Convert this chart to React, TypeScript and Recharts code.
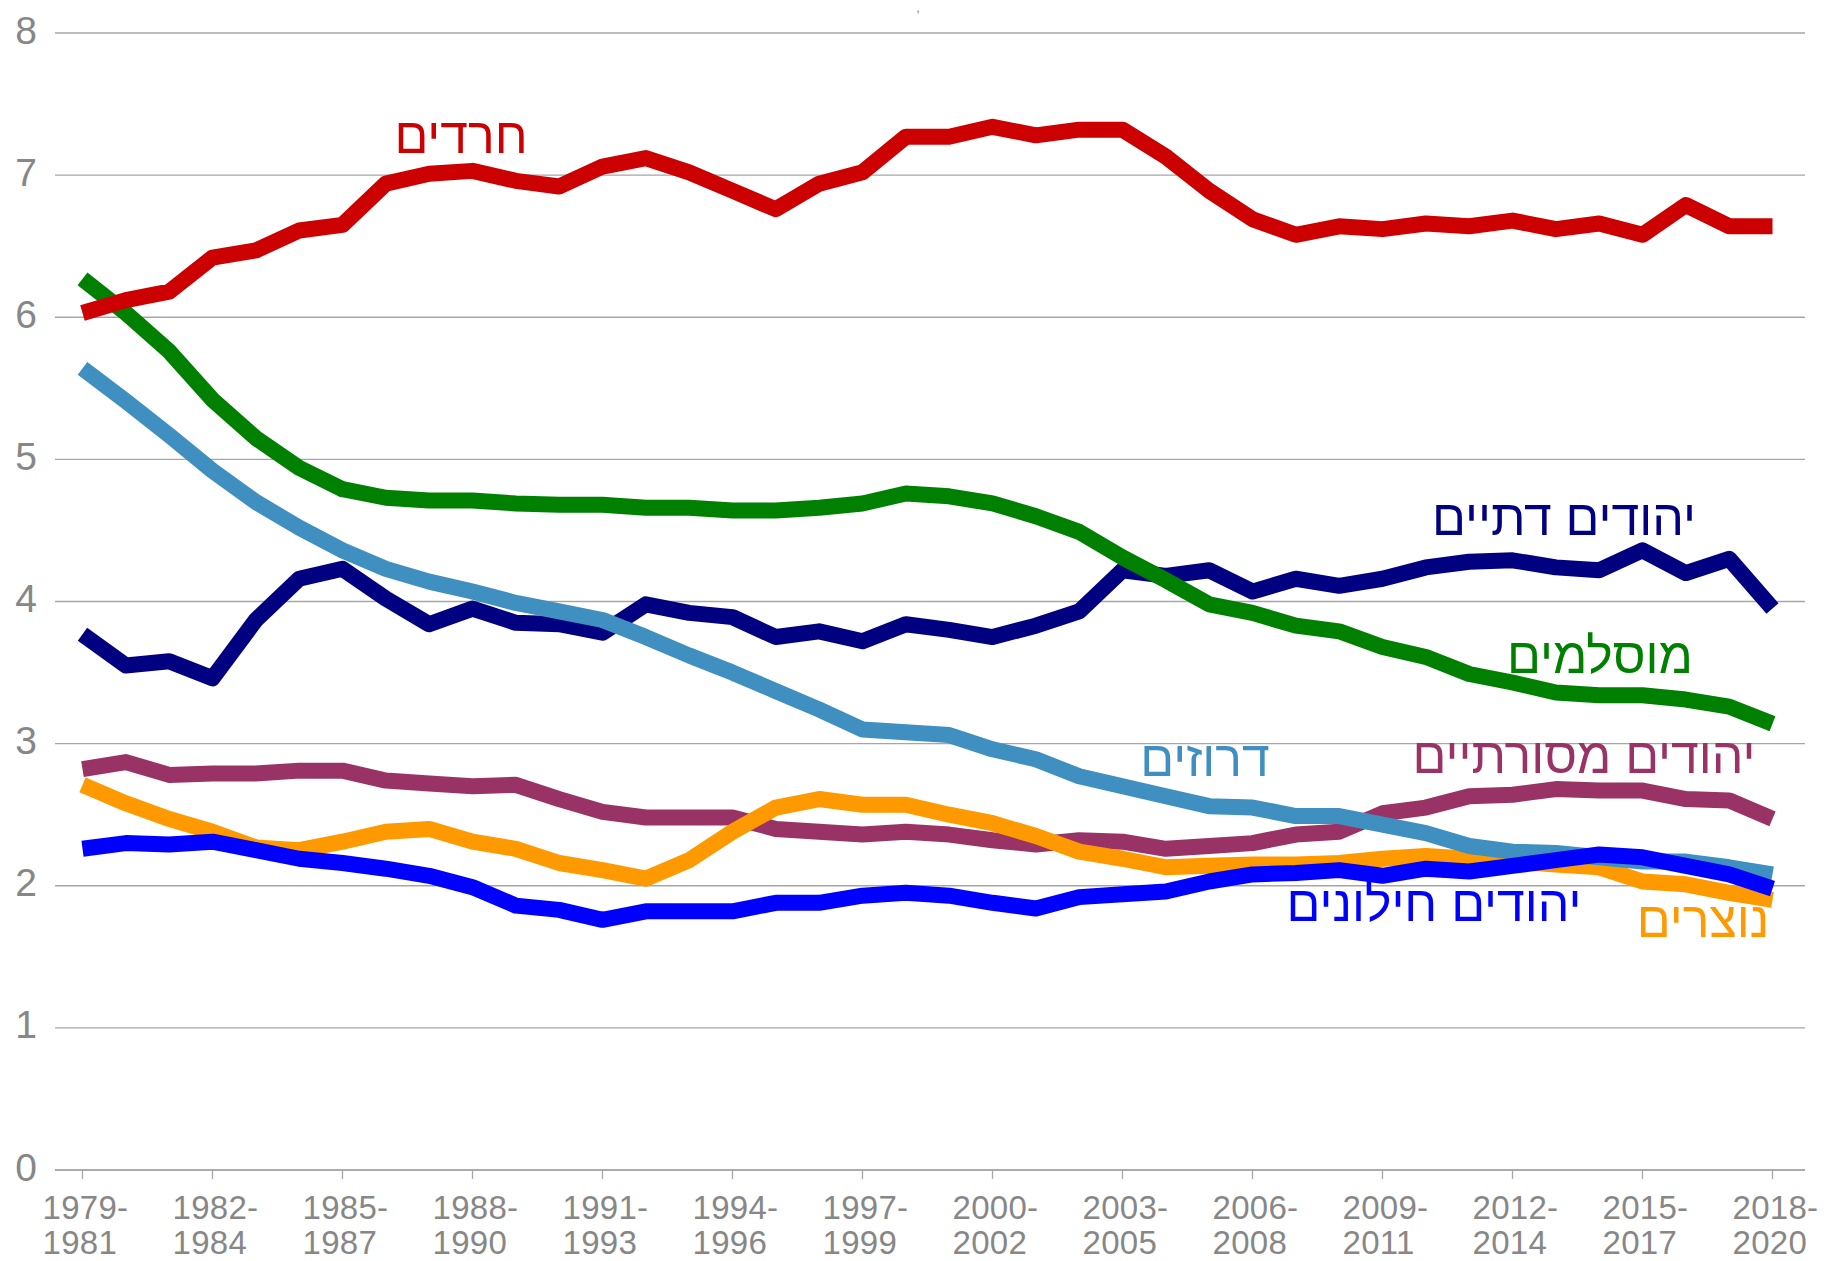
import { LineChart, CartesianGrid, XAxis, YAxis, Line } from "recharts";

const periods = [
  "1979-1981", "1980-1982", "1981-1983", "1982-1984", "1983-1985", "1984-1986", "1985-1987", "1986-1988",
  "1987-1989", "1988-1990", "1989-1991", "1990-1992", "1991-1993", "1992-1994", "1993-1995", "1994-1996",
  "1995-1997", "1996-1998", "1997-1999", "1998-2000", "1999-2001", "2000-2002", "2001-2003", "2002-2004",
  "2003-2005", "2004-2006", "2005-2007", "2006-2008", "2007-2009", "2008-2010", "2009-2011", "2010-2012",
  "2011-2013", "2012-2014", "2013-2015", "2014-2016", "2015-2017", "2016-2018", "2017-2019", "2018-2020",
];

const haredim = [6.03, 6.12, 6.18, 6.42, 6.47, 6.61, 6.65, 6.94, 7.01, 7.03, 6.96, 6.92, 7.06, 7.12, 7.02, 6.89, 6.76, 6.94, 7.02, 7.27, 7.27, 7.34, 7.28, 7.32, 7.32, 7.13, 6.89, 6.69, 6.58, 6.64, 6.62, 6.66, 6.64, 6.68, 6.62, 6.66, 6.58, 6.79, 6.64, 6.64];
const muslims = [6.27, 6.03, 5.76, 5.42, 5.15, 4.94, 4.79, 4.73, 4.71, 4.71, 4.69, 4.68, 4.68, 4.66, 4.66, 4.64, 4.64, 4.66, 4.69, 4.76, 4.74, 4.69, 4.6, 4.49, 4.31, 4.15, 3.98, 3.92, 3.83, 3.79, 3.68, 3.61, 3.49, 3.43, 3.36, 3.34, 3.34, 3.31, 3.26, 3.14];
const druze = [5.64, 5.41, 5.17, 4.92, 4.7, 4.52, 4.36, 4.23, 4.14, 4.07, 3.99, 3.93, 3.87, 3.75, 3.62, 3.5, 3.37, 3.24, 3.1, 3.08, 3.06, 2.96, 2.89, 2.77, 2.7, 2.63, 2.56, 2.55, 2.49, 2.49, 2.43, 2.37, 2.28, 2.24, 2.23, 2.2, 2.17, 2.17, 2.13, 2.08];
const religious = [3.77, 3.55, 3.58, 3.46, 3.87, 4.16, 4.23, 4.02, 3.84, 3.95, 3.85, 3.84, 3.78, 3.98, 3.92, 3.89, 3.75, 3.79, 3.72, 3.84, 3.8, 3.75, 3.83, 3.93, 4.22, 4.18, 4.22, 4.07, 4.16, 4.11, 4.16, 4.24, 4.28, 4.29, 4.24, 4.22, 4.36, 4.2, 4.3, 3.95];
const traditional = [2.82, 2.87, 2.78, 2.79, 2.79, 2.81, 2.81, 2.74, 2.72, 2.7, 2.71, 2.61, 2.52, 2.48, 2.48, 2.48, 2.4, 2.38, 2.36, 2.38, 2.36, 2.32, 2.29, 2.32, 2.31, 2.26, 2.28, 2.3, 2.36, 2.38, 2.51, 2.55, 2.63, 2.64, 2.68, 2.67, 2.67, 2.61, 2.6, 2.47];
const christians = [2.71, 2.58, 2.47, 2.38, 2.27, 2.25, 2.31, 2.38, 2.4, 2.31, 2.26, 2.16, 2.11, 2.05, 2.18, 2.38, 2.55, 2.61, 2.57, 2.57, 2.5, 2.44, 2.35, 2.24, 2.19, 2.13, 2.14, 2.15, 2.15, 2.16, 2.19, 2.21, 2.19, 2.17, 2.15, 2.13, 2.03, 2.01, 1.95, 1.9];
const secular = [2.26, 2.3, 2.29, 2.31, 2.25, 2.19, 2.16, 2.12, 2.07, 1.99, 1.86, 1.83, 1.76, 1.82, 1.82, 1.82, 1.88, 1.88, 1.93, 1.95, 1.93, 1.88, 1.84, 1.92, 1.94, 1.96, 2.03, 2.08, 2.09, 2.11, 2.07, 2.12, 2.1, 2.14, 2.18, 2.22, 2.2, 2.14, 2.08, 1.98];

const yTicks = [0, 1, 2, 3, 4, 5, 6, 7, 8];

const data = periods.map((period, i) => ({
  period,
  haredim: haredim[i],
  muslims: muslims[i],
  druze: druze[i],
  religious: religious[i],
  traditional: traditional[i],
  christians: christians[i],
  secular: secular[i],
}));

const W = 1824;
const H = 1261;
const XAXIS_H = 91;
const AXIS_Y = H - XAXIS_H;
const FONT = "'Liberation Sans', Arial, sans-serif";
const GRID = "#a6a6a6";
const TEXT = "#878787";

// drawn bottom to top
const series = [
  { key: "traditional", color: "#993366" },
  { key: "christians", color: "#ff9900" },
  { key: "religious", color: "#000080" },
  { key: "druze", color: "#3f8fc1" },
  { key: "muslims", color: "#008000" },
  { key: "haredim", color: "#cc0000" },
  { key: "secular", color: "#0000ff" },
];

const labels = [
  { text: "חרדים", color: "#cc0000", x: 461, y: 153 },
  { text: "יהודים דתיים", color: "#000080", x: 1564, y: 535 },
  { text: "מוסלמים", color: "#008000", x: 1600, y: 673 },
  { text: "דרוזים", color: "#3f8fc1", x: 1205, y: 776 },
  { text: "יהודים מסורתיים", color: "#993366", x: 1584, y: 773 },
  { text: "יהודים חילונים", color: "#0000ff", x: 1434, y: 921 },
  { text: "נוצרים", color: "#ff9900", x: 1703, y: 937 },
];

const XTick = ({ x, payload }: any) => {
  const [a, b] = String(payload.value).split("-");
  return (
    <text x={x - 40} fill={TEXT} fontSize={33} fontFamily={FONT} textAnchor="start" letterSpacing={0.3}>
      <tspan x={x - 40} y={AXIS_Y + 49}>{a + "-"}</tspan>
      <tspan x={x - 40} y={AXIS_Y + 83.5}>{b}</tspan>
    </text>
  );
};

const YTick = ({ y, payload }: any) => (
  <text x={37} y={y - 3} fill={TEXT} fontSize={39} fontFamily={FONT} textAnchor="end" dominantBaseline="central">
    {payload.value}
  </text>
);

export default function App() {
  return (
    <div style={{ position: "absolute", left: 0, top: 0, width: W, height: H, background: "#fff" }}>
      <LineChart width={W} height={H} data={data} margin={{ top: 33, right: 19, left: 0, bottom: 0 }}>
        <CartesianGrid vertical={false} stroke={GRID} strokeWidth={1.3} />
        <XAxis
          dataKey="period"
          interval={2}
          height={XAXIS_H}
          padding={{ left: 27.5, right: 32.5 }}
          axisLine={{ stroke: GRID, strokeWidth: 1.3 }}
          tickLine={{ stroke: GRID, strokeWidth: 1.3 }}
          tickSize={9}
          tick={<XTick />}
        />
        <YAxis width={55} domain={[0, 8]} ticks={yTicks} axisLine={false} tickLine={false} tick={<YTick />} />
        {series.map((s) => (
          <Line
            key={s.key}
            dataKey={s.key}
            type="linear"
            stroke={s.color}
            strokeWidth={16}
            strokeLinecap="butt"
            strokeLinejoin="round"
            dot={false}
            activeDot={false}
            isAnimationActive={false}
          />
        ))}
      </LineChart>
      <svg width={W} height={H} style={{ position: "absolute", left: 0, top: 0, pointerEvents: "none" }}>
        {/* tail of a title cropped off above the chart */}
        <text x={918} y={12} fill={TEXT} fontSize={13} fontFamily={FONT} textAnchor="middle">,</text>
        {labels.map((l) => (
          <text key={l.text} x={l.x} y={l.y} fill={l.color} fontSize={50} fontFamily={FONT} textAnchor="middle" direction="rtl">
            {l.text}
          </text>
        ))}
      </svg>
    </div>
  );
}
